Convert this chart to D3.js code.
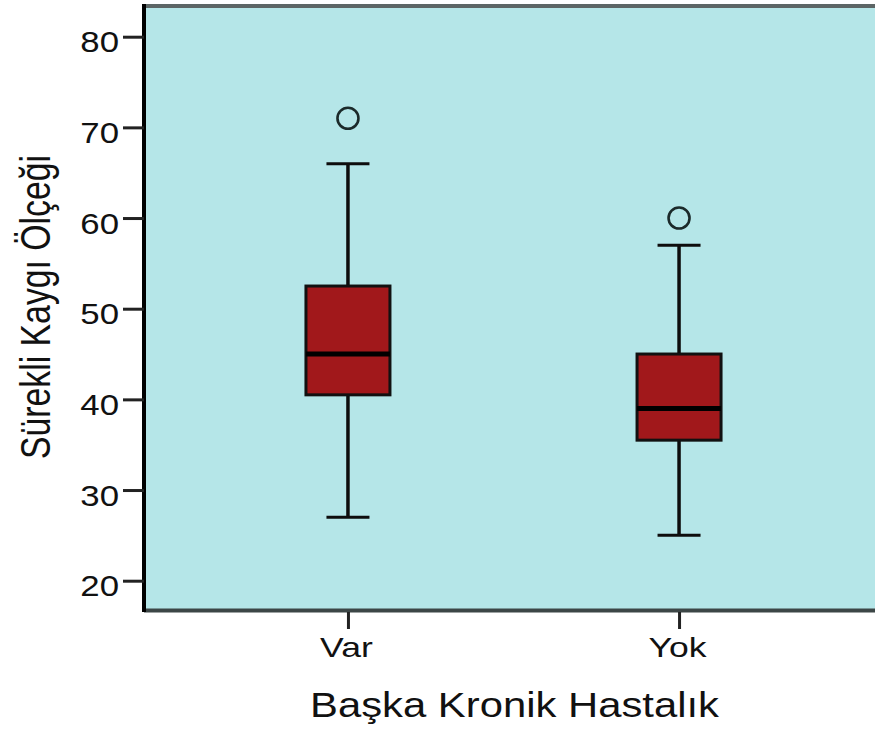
<!DOCTYPE html>
<html>
<head>
<meta charset="utf-8">
<script src="https://cdn.jsdelivr.net/npm/d3@7"></script>
<style>
  html, body { margin: 0; padding: 0; background: #fff; }
  svg { display: block; }
  text { font-family: "Liberation Sans", Arial, sans-serif; fill: #111; }
</style>
</head>
<body>
<svg id="chart" width="875" height="736"></svg>
<script>
// Box-plot summary per group
const categories   = ["Var", "Yok"];
const whiskerLow   = [27, 25];
const quartile1    = [40.5, 35.5];
const medians      = [45, 39];
const quartile3    = [52.5, 45];
const whiskerHigh  = [66, 57];
const outliers     = [[71], [60]];
const yTickValues  = [20, 30, 40, 50, 60, 70, 80];
const xTitle = "Başka Kronik Hastalık";
const yTitle = "Sürekli Kaygı Ölçeği";

const svg = d3.select("#chart");

const plot = { left: 146, right: 882, top: 6, bottom: 610 };

const x = d3.scalePoint()
  .domain(categories)
  .range([145, 882])
  .padding(0.613);

const y = d3.scaleLinear()
  .domain([20, 80])
  .range([580.7, 36.7]);

const boxes = categories.map((c, i) => ({
  cat: c,
  lo: whiskerLow[i], q1: quartile1[i], med: medians[i],
  q3: quartile3[i], hi: whiskerHigh[i], out: outliers[i]
}));

// Plot background
svg.append("rect")
  .attr("x", plot.left).attr("y", plot.top)
  .attr("width", plot.right - plot.left)
  .attr("height", plot.bottom - plot.top)
  .attr("fill", "#b5e6e8");

// Frame lines
svg.append("line")
  .attr("x1", plot.left - 2).attr("x2", plot.right)
  .attr("y1", plot.top).attr("y2", plot.top)
  .attr("stroke", "#5c6565").attr("stroke-width", 4);
svg.append("line")
  .attr("x1", plot.left - 2).attr("x2", plot.right)
  .attr("y1", plot.bottom + 0.5).attr("y2", plot.bottom + 0.5)
  .attr("stroke", "#3c4646").attr("stroke-width", 4);

const boxW = 84, capW = 43;

const g = svg.append("g").selectAll("g.box")
  .data(boxes).join("g").attr("class", "box");

// Whiskers
g.append("line")
  .attr("x1", d => x(d.cat)).attr("x2", d => x(d.cat))
  .attr("y1", d => y(d.q3)).attr("y2", d => y(d.hi))
  .attr("stroke", "#0d0d0d").attr("stroke-width", 3.5);
g.append("line")
  .attr("x1", d => x(d.cat)).attr("x2", d => x(d.cat))
  .attr("y1", d => y(d.q1)).attr("y2", d => y(d.lo))
  .attr("stroke", "#0d0d0d").attr("stroke-width", 3.5);

// Whisker caps
g.append("line")
  .attr("x1", d => x(d.cat) - capW / 2).attr("x2", d => x(d.cat) + capW / 2)
  .attr("y1", d => y(d.hi)).attr("y2", d => y(d.hi))
  .attr("stroke", "#0d0d0d").attr("stroke-width", 3);
g.append("line")
  .attr("x1", d => x(d.cat) - capW / 2).attr("x2", d => x(d.cat) + capW / 2)
  .attr("y1", d => y(d.lo)).attr("y2", d => y(d.lo))
  .attr("stroke", "#0d0d0d").attr("stroke-width", 3);

// Interquartile box
g.append("rect")
  .attr("x", d => x(d.cat) - boxW / 2)
  .attr("y", d => y(d.q3))
  .attr("width", boxW)
  .attr("height", d => y(d.q1) - y(d.q3))
  .attr("fill", "#a1181b")
  .attr("stroke", "#111").attr("stroke-width", 3);

// Median
g.append("line")
  .attr("x1", d => x(d.cat) - boxW / 2).attr("x2", d => x(d.cat) + boxW / 2)
  .attr("y1", d => y(d.med)).attr("y2", d => y(d.med))
  .attr("stroke", "#000").attr("stroke-width", 5);

// Outliers
g.selectAll("circle")
  .data(d => d.out.map(v => ({ cat: d.cat, v })))
  .join("circle")
  .attr("cx", d => x(d.cat))
  .attr("cy", d => y(d.v))
  .attr("r", 10.5)
  .attr("fill", "none")
  .attr("stroke", "#1b2a2a")
  .attr("stroke-width", 2.6);

// Y axis
const yAxis = svg.append("g")
  .attr("transform", `translate(${plot.left - 2},0)`)
  .call(d3.axisLeft(y).tickValues(yTickValues).tickSize(21).tickPadding(5));
yAxis.select(".domain")
  .attr("d", `M0,${plot.top - 2}V${plot.bottom + 2}`)
  .attr("stroke", "#000").attr("stroke-width", 4);
yAxis.selectAll(".tick line").attr("stroke", "#222").attr("stroke-width", 3);
yAxis.selectAll(".tick text")
  .attr("x", null).attr("dy", null)
  .style("font-size", "29px")
  .attr("fill", "#111")
  .attr("text-anchor", "end")
  .attr("transform", "translate(-25,15) scale(1.2,1)");

// X axis
const xAxis = svg.append("g")
  .attr("transform", `translate(0,${plot.bottom + 2})`)
  .call(d3.axisBottom(x).tickSize(17).tickPadding(0));
xAxis.select(".domain").remove();
xAxis.selectAll(".tick line").attr("stroke", "#222").attr("stroke-width", 3);
xAxis.selectAll(".tick text")
  .attr("y", null).attr("dy", null)
  .style("font-size", "28px")
  .attr("fill", "#111")
  .attr("text-anchor", "middle")
  .attr("transform", "translate(-2,45) scale(1.27,1)");

// Axis titles
svg.append("text")
  .attr("x", 514.5).attr("y", 717)
  .attr("text-anchor", "middle")
  .style("font-size", "35px")
  .attr("textLength", 409)
  .attr("lengthAdjust", "spacingAndGlyphs")
  .text(xTitle);

svg.append("text")
  .attr("transform", "translate(50,307) rotate(-90)")
  .attr("text-anchor", "middle")
  .style("font-size", "43px")
  .attr("textLength", 304)
  .attr("lengthAdjust", "spacingAndGlyphs")
  .text(yTitle);
</script>
</body>
</html>
